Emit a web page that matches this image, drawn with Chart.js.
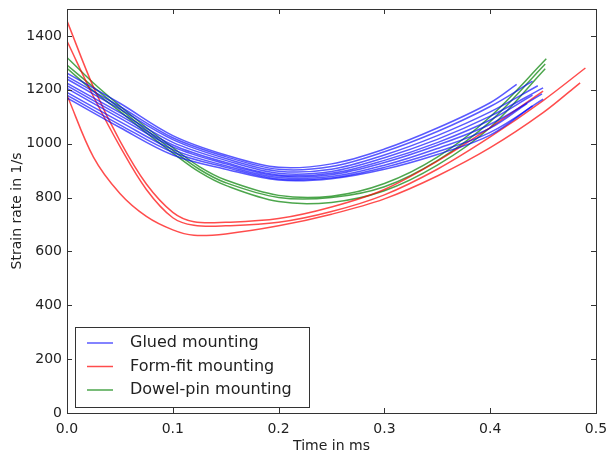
<!DOCTYPE html>
<html>
<head>
<meta charset="utf-8">
<script src="https://cdn.jsdelivr.net/npm/chart.js@4.4.1/dist/chart.umd.min.js"></script>
<style>
  html, body { margin: 0; padding: 0; background: #fff; }
  #wrap { width: 607px; height: 457px; }
</style>
</head>
<body>
<div id="wrap"><canvas id="strainChart" width="607" height="457"></canvas></div>
<script>
// tick labels
const xTicks = [0, 0.1, 0.2, 0.3, 0.4, 0.5];
const yTicks = [0, 200, 400, 600, 800, 1000, 1200, 1400];

// Glued mounting (blue) - shared sample times, then each curve's last point
const gluedT = [0, 0.05, 0.1, 0.15, 0.2, 0.25, 0.3, 0.35, 0.4];
const glued = [
    [1262, 1150, 1030, 958, 912, 925, 980, 1058, 1152],
    [1250, 1138, 1022, 952, 905, 915, 970, 1045, 1138],
    [1240, 1128, 1015, 945, 898, 905, 958, 1030, 1118],
    [1225, 1115, 1005, 938, 890, 897, 948, 1016, 1102],
    [1215, 1105, 995, 930, 884, 890, 938, 1004, 1088],
    [1205, 1095, 988, 925, 880, 885, 930, 994, 1072],
    [1190, 1082, 978, 918, 874, 878, 920, 982, 1058],
    [1180, 1070, 968, 912, 869, 873, 912, 970, 1042],
    [1170, 1060, 958, 905, 865, 870, 905, 960, 1032]
];
const gluedEndT = [0.425, 0.44, 0.445, 0.45, 0.44, 0.449, 0.435, 0.45, 0.44];
const gluedEndV = [1220, 1232, 1215, 1207, 1180, 1185, 1150, 1165, 1140];

// Form-fit mounting (red)
const formFitT = [0, 0.025, 0.05, 0.075, 0.1, 0.12, 0.15, 0.2, 0.25, 0.3, 0.35, 0.4, 0.45];
const formFit = [
    [1456, 1210, 1010, 850, 745, 710, 708, 722, 765, 830, 935, 1060, 1195],
    [1381, 1175, 990, 830, 725, 697, 695, 708, 748, 810, 905, 1025, 1160],
    [1180, 950, 815, 730, 680, 660, 665, 695, 738, 795, 880, 985, 1115]
];
const formFitEndT = [null, 0.49, 0.485];
const formFitEndV = [null, 1281, 1226];

// Dowel-pin mounting (green)
const dowelT = [0, 0.025, 0.05, 0.075, 0.1, 0.125, 0.15, 0.2, 0.25, 0.3, 0.35, 0.4];
const dowel = [
    [1320, 1225, 1140, 1060, 985, 915, 865, 808, 805, 852, 950, 1100],
    [1292, 1210, 1130, 1050, 975, 905, 855, 800, 800, 840, 937, 1082],
    [1280, 1195, 1120, 1040, 965, 895, 845, 785, 782, 825, 920, 1060]
];
const dowelEndT = [0.453, 0.452, 0.452];
const dowelEndV = [1315, 1296, 1278];

const groups = [
    { label: 'Glued mounting', color: 'rgba(0,0,255,0.65)', t: gluedT, curves: glued, endT: gluedEndT, endV: gluedEndV },
    { label: 'Form-fit mounting', color: 'rgba(255,0,0,0.7)', t: formFitT, curves: formFit, endT: formFitEndT, endV: formFitEndV },
    { label: 'Dowel-pin mounting', color: 'rgba(0,128,0,0.7)', t: dowelT, curves: dowel, endT: dowelEndT, endV: dowelEndV }
];

const datasets = [];
groups.forEach(g => {
    g.curves.forEach((vals, i) => {
        const pts = vals.map((v, k) => ({ x: g.t[k], y: v }));
        if (g.endT[i] !== null) pts.push({ x: g.endT[i], y: g.endV[i] });
        datasets.push({
            label: g.label,
            data: pts,
            borderColor: g.color,
            borderWidth: 1.5,
            pointRadius: 0,
            fill: false,
            tension: 0.35
        });
    });
});

// frame with inward ticks on all four sides, plus legend box in the lower left
const framePlugin = {
    id: 'frame',
    afterDatasetsDraw(chart) {
        const { ctx, chartArea: a, scales: { x, y } } = chart;
        ctx.save();
        ctx.strokeStyle = '#333';
        ctx.lineWidth = 1;
        ctx.strokeRect(a.left + 0.5, a.top + 0.5, a.right - a.left, a.bottom - a.top);
        ctx.beginPath();
        xTicks.forEach(v => {
            const px = Math.round(x.getPixelForValue(v)) + 0.5;
            ctx.moveTo(px, a.bottom); ctx.lineTo(px, a.bottom - 5);
            ctx.moveTo(px, a.top); ctx.lineTo(px, a.top + 5);
        });
        yTicks.forEach(v => {
            const py = Math.round(y.getPixelForValue(v)) + 0.5;
            ctx.moveTo(a.left, py); ctx.lineTo(a.left + 5, py);
            ctx.moveTo(a.right, py); ctx.lineTo(a.right - 5, py);
        });
        ctx.stroke();

        // legend
        const lx = a.left + 8, ly = a.bottom - 86, lw = 234, lh = 80;
        ctx.fillStyle = '#fff';
        ctx.fillRect(lx, ly, lw, lh);
        ctx.strokeStyle = '#333';
        ctx.strokeRect(lx + 0.5, ly + 0.5, lw, lh);
        ctx.font = '16px "DejaVu Sans"';
        ctx.textBaseline = 'middle';
        groups.forEach((g, i) => {
            const cy = ly + 16 + i * 23.5;
            ctx.strokeStyle = g.color;
            ctx.lineWidth = 1.5;
            ctx.beginPath();
            ctx.moveTo(lx + 12, cy); ctx.lineTo(lx + 38, cy);
            ctx.stroke();
            ctx.fillStyle = '#222';
            ctx.fillText(g.label, lx + 55, cy);
        });
        ctx.restore();
    }
};

new Chart(document.getElementById('strainChart'), {
    type: 'line',
    data: { datasets },
    options: {
        responsive: false,
        animation: false,
        layout: { padding: { top: 9, right: 11, left: 0, bottom: 0 } },
        plugins: { legend: { display: false }, tooltip: { enabled: false } },
        scales: {
            x: {
                type: 'linear',
                min: 0,
                max: 0.5,
                afterBuildTicks: s => { s.ticks = xTicks.map(v => ({ value: v })); },
                afterFit: s => { s.height = 44; s.paddingLeft = 0; s.paddingRight = 0; },
                grid: { display: false, drawTicks: false },
                border: { display: false },
                ticks: {
                    padding: 8,
                    color: '#222',
                    font: { family: 'DejaVu Sans', size: 14 },
                    maxRotation: 0,
                    callback: v => v.toFixed(1)
                },
                title: {
                    display: true,
                    text: 'Time in ms',
                    color: '#222',
                    font: { family: 'DejaVu Sans', size: 14 },
                    padding: { top: 0, bottom: 2 }
                }
            },
            y: {
                min: 0,
                max: 1500,
                afterBuildTicks: s => { s.ticks = yTicks.map(v => ({ value: v })); },
                afterFit: s => { s.width = 67; s.paddingTop = 0; s.paddingBottom = 0; },
                grid: { display: false, drawTicks: false },
                border: { display: false },
                ticks: {
                    padding: 5,
                    color: '#222',
                    font: { family: 'DejaVu Sans', size: 14 },
                    callback: v => String(v)
                },
                title: {
                    display: true,
                    text: 'Strain rate in 1/s',
                    color: '#222',
                    font: { family: 'DejaVu Sans', size: 14 },
                    padding: { top: 9, bottom: 0 }
                }
            }
        }
    },
    plugins: [framePlugin]
});
</script>
</body>
</html>
